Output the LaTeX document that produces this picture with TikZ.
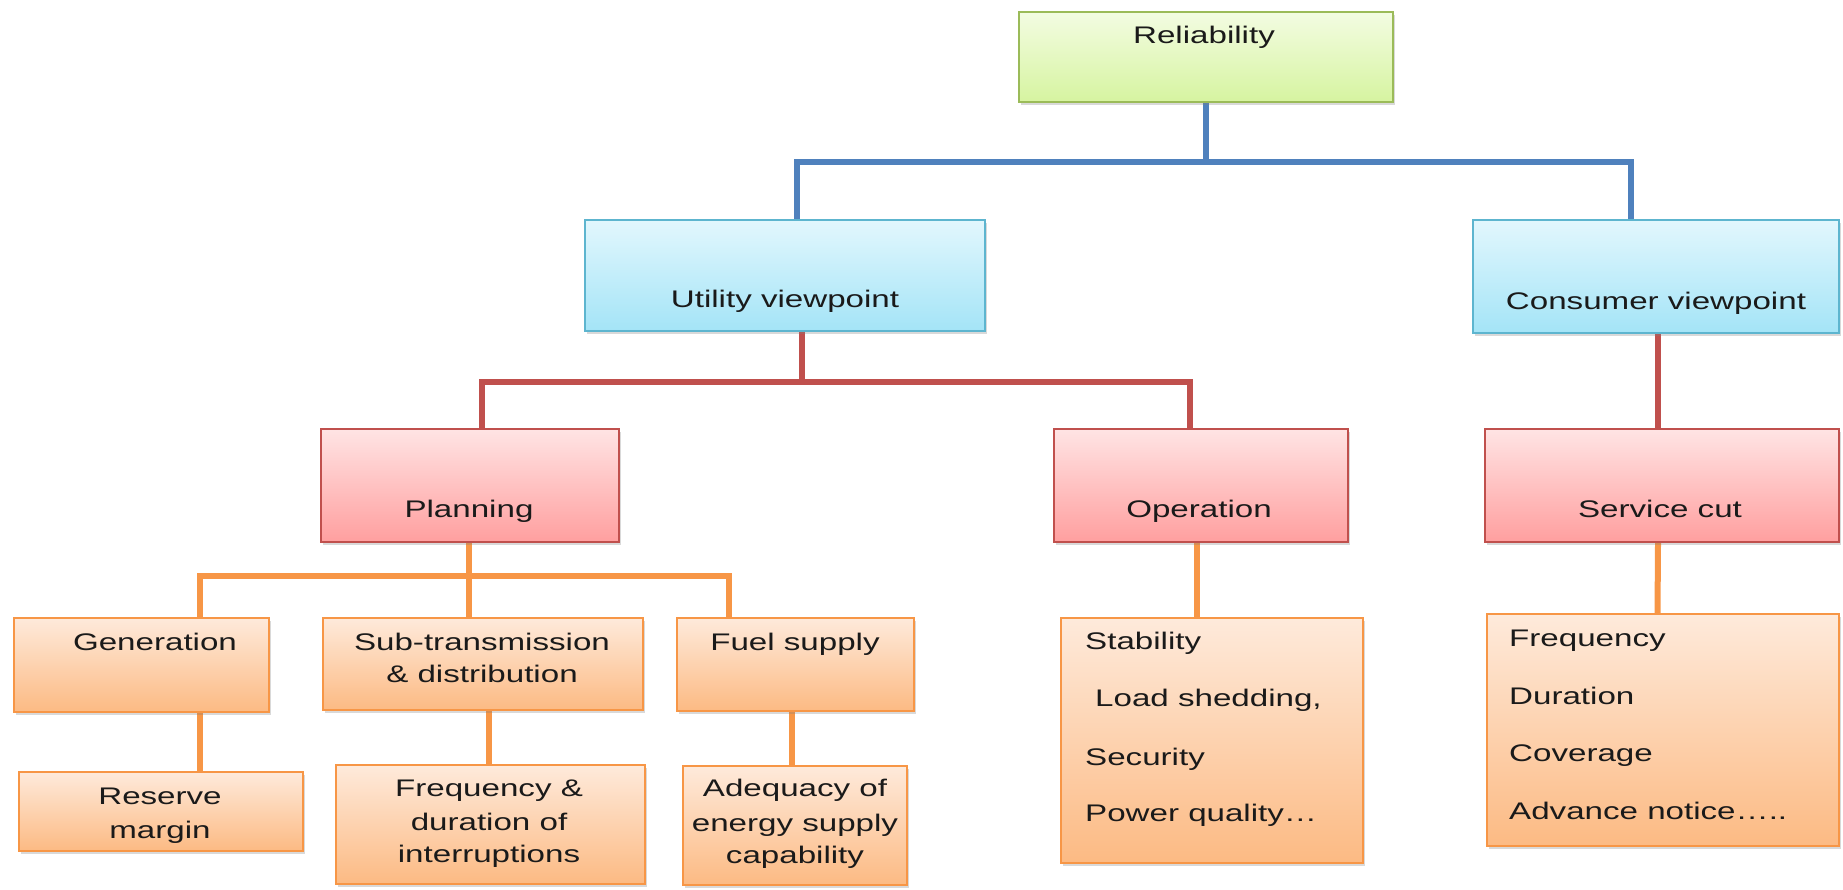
\documentclass[tikz,border=0pt]{standalone}
\usepackage{fontspec}
\setmainfont[FakeStretch=1.38]{Liberation Sans}
\usetikzlibrary{shadows,backgrounds}
\definecolor{grnT}{HTML}{F3FCE2}
\definecolor{grnB}{HTML}{D6F4A0}
\definecolor{grnD}{HTML}{9BBB59}
\definecolor{bluT}{HTML}{E2F7FD}
\definecolor{bluB}{HTML}{A4E4F7}
\definecolor{bluD}{HTML}{5DB5CF}
\definecolor{pnkT}{HTML}{FFE4E4}
\definecolor{pnkB}{HTML}{FF9F9F}
\definecolor{pnkD}{HTML}{C0504D}
\definecolor{orgT}{HTML}{FEEADB}
\definecolor{orgB}{HTML}{FCBA83}
\definecolor{orgD}{HTML}{F79646}
\definecolor{wBlue}{HTML}{4F81BD}
\definecolor{wRed}{HTML}{C0504D}
\definecolor{wOrg}{HTML}{F79646}
\definecolor{txtc}{HTML}{1A1A1A}
\tikzset{
  box/.style={rectangle, inner sep=0pt, line width=2pt,
    drop shadow={shadow xshift=2pt, shadow yshift=-3pt, opacity=0.3}},
  gbox/.style={box, draw=grnD, top color=grnT, bottom color=grnB},
  bbox/.style={box, draw=bluD, top color=bluT, bottom color=bluB},
  pbox/.style={box, draw=pnkD, top color=pnkT, bottom color=pnkB},
  obox/.style={box, draw=orgD, top color=orgT, bottom color=orgB},
  txt/.style={inner sep=0pt, anchor=base, text=txtc, font=\fontsize{24pt}{33pt}\selectfont},
  ltxt/.style={txt, anchor=base west},
  bwire/.style={line width=6pt, draw=wBlue},
  rwire/.style={line width=6pt, draw=wRed},
  owire/.style={line width=6pt, draw=wOrg},
}
\begin{document}
\begin{tikzpicture}[x=1pt, y=-1pt]
\useasboundingbox (0,0) rectangle (1843,889);
% boxes
\path
  node[gbox, minimum width=374pt, minimum height=90pt]  (reli) at (1206,57) {}
  node[bbox, minimum width=400pt, minimum height=111pt] (util) at (785,275.5) {}
  node[bbox, minimum width=366pt, minimum height=113pt] (cons) at (1656,276.5) {}
  node[pbox, minimum width=298pt, minimum height=113pt] (plan) at (470,485.5) {}
  node[pbox, minimum width=294pt, minimum height=113pt] (oper) at (1201,485.5) {}
  node[pbox, minimum width=354pt, minimum height=113pt] (serv) at (1662,485.5) {}
  node[obox, minimum width=255pt, minimum height=94pt]  (gen)  at (141.5,665) {}
  node[obox, minimum width=320pt, minimum height=92pt]  (sub)  at (483,664) {}
  node[obox, minimum width=237pt, minimum height=93pt]  (fuel) at (795.5,664.5) {}
  node[obox, minimum width=284pt, minimum height=79pt]  (res)  at (161,811.5) {}
  node[obox, minimum width=309pt, minimum height=119pt] (freq) at (490.5,824.5) {}
  node[obox, minimum width=224pt, minimum height=119pt] (adeq) at (795,825.5) {}
  node[obox, minimum width=302pt, minimum height=245pt] (opl)  at (1212,740.5) {}
  node[obox, minimum width=352pt, minimum height=232pt] (svl)  at (1663,730) {};
% connectors
\begin{scope}[on background layer]
\draw[bwire] (reli.south) -- ++(0,59) coordinate (bj) -| ([xshift=12pt]util.north);
\draw[bwire] (bj) -| ([xshift=-25pt]cons.north);
\draw[rwire] ([xshift=17pt]util.south) -- ++(0,50) coordinate (rj) -| ([xshift=12pt]plan.north);
\draw[rwire] (rj) -| ([xshift=-11pt]oper.north);
\draw[rwire] ([xshift=2pt]cons.south) -- ([xshift=-4pt]serv.north);
\draw[owire] ([xshift=-1pt]plan.south) -- ++(0,33) coordinate (oj) -| ([xshift=58.5pt]gen.north);
\draw[owire] (oj) -- ([xshift=-14pt]sub.north);
\draw[owire] (oj) -| ([xshift=-66.5pt]fuel.north);
\draw[owire] ([xshift=58.5pt]gen.south) -- ([xshift=39pt]res.north);
\draw[owire] ([xshift=6pt]sub.south) -- ([xshift=-1.5pt]freq.north);
\draw[owire] ([xshift=-3.5pt]fuel.south) -- ([xshift=-3pt]adeq.north);
\draw[owire] ([xshift=-4pt]oper.south) -- ([xshift=-15pt]opl.north);
\draw[owire] ([xshift=-4pt]serv.south) -- ([xshift=-5.5pt]svl.north);
\end{scope}
% texts
\node[txt] (reliT) at (1204,43) {Reliability};
\node[txt] (utilT) at (785,307) {Utility viewpoint};
\node[txt] (consT) at (1656,309) {Consumer viewpoint};
\node[txt] (planT) at (469,517) {Planning};
\node[txt] (operT) at (1199,517) {Operation};
\node[txt] (servT) at (1660,517) {Service cut};
\node[txt] (genT) at (155,650) {Generation};
\node[txt] (subT1) at (482,650) {Sub-transmission};
\node[txt] (subT2) at (482,682) {\& distribution};
\node[txt] (fuelT) at (795,650) {Fuel supply};
\node[txt] (resT1) at (160,804) {Reserve};
\node[txt] (resT2) at (160,838) {margin};
\node[txt] (freqT1) at (489,796) {Frequency \&};
\node[txt] (freqT2) at (489,830) {duration of};
\node[txt] (freqT3) at (489,862) {interruptions};
\node[txt] (adeqT1) at (795,796) {Adequacy of};
\node[txt] (adeqT2) at (795,831) {energy supply};
\node[txt] (adeqT3) at (795,863) {capability};
\node[ltxt] (oplT1) at (1085,649) {Stability};
\node[ltxt] (oplT2) at (1095,706) {Load shedding,};
\node[ltxt] (oplT3) at (1085,765) {Security};
\node[ltxt] (oplT4) at (1085,821) {Power quality…};
\node[ltxt] (svlT1) at (1509,646) {Frequency};
\node[ltxt] (svlT2) at (1509,704) {Duration};
\node[ltxt] (svlT3) at (1509,761) {Coverage};
\node[ltxt] (svlT4) at (1509,819) {Advance notice…..};
\end{tikzpicture}
\end{document}
